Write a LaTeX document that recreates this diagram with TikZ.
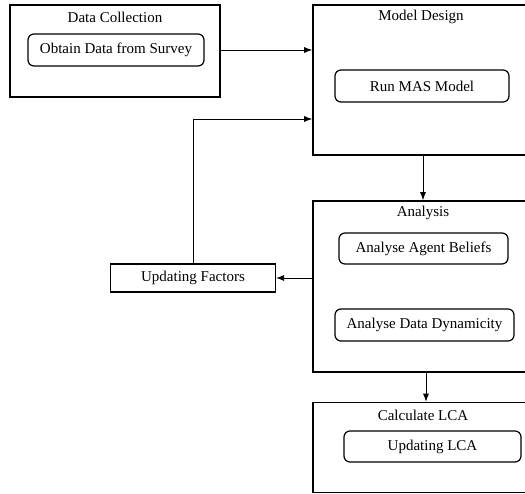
\documentclass[tikz,border=0pt]{standalone}
\usepackage{fontspec}
\setmainfont{Liberation Serif}
\usetikzlibrary{arrows.meta,positioning}
\begin{document}
\begin{tikzpicture}[x=1pt,y=-1pt,
  font=\fontsize{15}{18}\selectfont,
  outer/.style={draw,line width=1.6pt,rectangle,inner sep=0pt},
  inner/.style={draw,line width=1.2pt,rounded corners=6pt,inner sep=0pt},
  plain/.style={draw,line width=1.2pt,inner sep=0pt},
  title/.style={inner sep=0pt},
  conn/.style={line width=0.8pt,-{Latex[length=8pt,width=6pt]}}]
\useasboundingbox (0,0) rectangle (525,494);
\clip (0,0) rectangle (525,494);
% outer boxes
\node[outer,minimum width=210pt,minimum height=92pt] (dc) at (115,51) {};
\node[outer,minimum width=218pt,minimum height=150pt] (md) at (422,80) {};
\node[outer,minimum width=218pt,minimum height=171pt] (an) at (422,286.5) {};
\node[outer,minimum width=218pt,minimum height=90pt] (lca) at (422,447.5) {};
\node[plain,minimum width=165pt,minimum height=28pt] (uf) at (193,278) {Updating Factors};
% titles
\node[title] (dct) at (115,17) {Data Collection};
\node[title] (mdt) at (421,17) {Model Design};
\node[title] (ant) at (423,213) {Analysis};
\node[title] (lcat) at (423,415) {Calculate LCA};
% inner boxes
\node[inner,minimum width=176pt,minimum height=32pt] (ob) at (116,50) {Obtain Data from Survey};
\node[inner,minimum width=174pt,minimum height=32pt] (mas) at (422,86) {Run MAS Model};
\node[inner,minimum width=169pt,minimum height=31pt] (aab) at (423.5,248.5) {Analyse Agent Beliefs};
\node[inner,minimum width=179pt,minimum height=32pt] (add) at (424.5,325) {Analyse Data Dynamicity};
\node[inner,minimum width=177pt,minimum height=31pt] (ul) at (432.5,446.5) {Updating LCA};
% connectors
\draw[conn] ([yshift=1pt]dc.east) -- ([yshift=1pt]dc.east -| md.west);
\draw[conn] (uf.north) |- ([yshift=-39pt]md.west);
\draw[conn] ([xshift=1pt]md.south) -- ([xshift=1pt]an.north);
\draw[conn] ([yshift=8.5pt]an.west) -- ([yshift=8.5pt]an.west -| uf.east);
\draw[conn] ([xshift=4pt]an.south) -- ([xshift=4pt]lca.north);
\end{tikzpicture}
\end{document}
